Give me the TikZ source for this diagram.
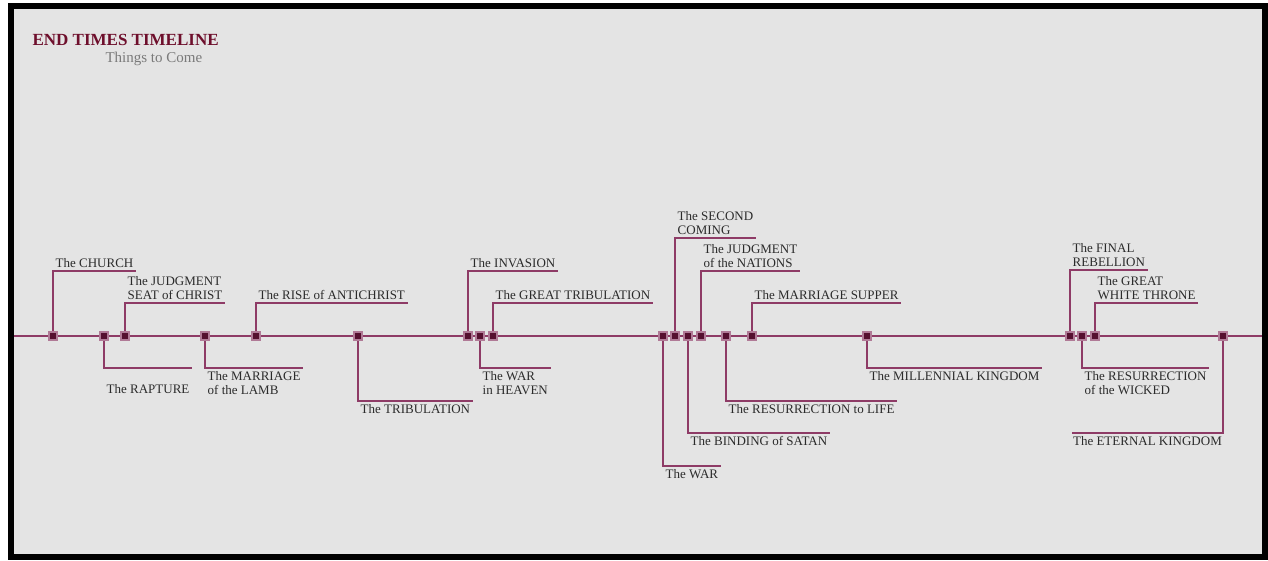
\documentclass[tikz,border=0pt]{standalone}
\usepackage{fontspec}
\setmainfont{Liberation Serif}
\usepackage{xcolor}
\usepackage{tikz}
\usetikzlibrary{backgrounds}

\definecolor{bggray}{HTML}{E4E4E4}
\definecolor{linecol}{HTML}{8E3B66}
\definecolor{evtring}{HTML}{B07A96}
\definecolor{evtcore}{HTML}{55102F}
\definecolor{txtcol}{HTML}{2B2B2B}
\definecolor{titlecol}{HTML}{6E0F2C}
\definecolor{subcol}{HTML}{7A7A7A}

\begin{document}
\begin{tikzpicture}[
  x=1pt, y=-1pt,
  font=\fontsize{13}{13.5}\selectfont,
  every node/.style={align=left, text=txtcol},
  evt/.style={
    draw=evtring, line width=2pt, fill=evtcore,
    rectangle, minimum size=8.5pt, inner sep=0pt
  },
  uplbl/.style={anchor=south west, inner xsep=2.5pt, inner ysep=3.5pt},
  dnlbl/.style={anchor=north west, inner xsep=2.5pt, inner ysep=3.5pt},
  link/.style={draw=linecol, line width=1.6pt},
  axis/.style={draw=linecol, line width=2.2pt}
]
\useasboundingbox (0,0) rectangle (1268,560);
\begin{scope}[on background layer]
  \fill[white] (0,0) rectangle (1268,560);
  \fill[black] (8,3) rectangle (1268,560);
  \fill[bggray] (14,9) rectangle (1262,554);
\end{scope}

\node[anchor=west, text=titlecol, font=\bfseries\fontsize{17}{17}\selectfont] (title) at (29,40) {END TIMES TIMELINE};
\node[anchor=west, text=subcol, font=\fontsize{15}{15}\selectfont] (subtitle) at (102,59) {Things to Come};

\coordinate (tstart) at (14,336);
\coordinate (tend) at (1262,336);

\node[evt] (church) at (53,336) {};
\node[evt] (rapture) at (104,336) {};
\node[evt] (seat) at (125,336) {};
\node[evt] (lamb) at (205,336) {};
\node[evt] (antichrist) at (256,336) {};
\node[evt] (trib) at (358,336) {};
\node[evt] (invasion) at (468,336) {};
\node[evt] (heaven) at (480,336) {};
\node[evt] (greattrib) at (493,336) {};
\node[evt] (war) at (663,336) {};
\node[evt] (coming) at (675,336) {};
\node[evt] (binding) at (688,336) {};
\node[evt] (nations) at (701,336) {};
\node[evt] (life) at (726,336) {};
\node[evt] (supper) at (752,336) {};
\node[evt] (millennium) at (867,336) {};
\node[evt] (rebellion) at (1070,336) {};
\node[evt] (wicked) at (1082,336) {};
\node[evt] (throne) at (1095,336) {};
\node[evt] (eternal) at (1223,336) {};

\node[uplbl] (lchurch) at (53,271) {The CHURCH};
\node[dnlbl, text height=22pt] (lrapture) at (104,368) {The RAPTURE};
\node[uplbl] (lseat) at (125,303) {The JUDGMENT\\SEAT of CHRIST};
\node[dnlbl] (llamb) at (205,368) {The MARRIAGE\\of the LAMB};
\node[uplbl] (lantichrist) at (256,303) {The RISE of ANTICHRIST};
\node[dnlbl] (ltrib) at (358,401) {The TRIBULATION};
\node[uplbl] (linvasion) at (468,271) {The INVASION};
\node[dnlbl] (lheaven) at (480,368) {The WAR\\in HEAVEN};
\node[uplbl] (lgreattrib) at (493,303) {The GREAT TRIBULATION};
\node[dnlbl] (lwar) at (663,466) {The WAR};
\node[uplbl] (lcoming) at (675,238) {The SECOND\\COMING};
\node[dnlbl] (lbinding) at (688,433) {The BINDING of SATAN};
\node[uplbl] (lnations) at (701,271) {The JUDGMENT\\of the NATIONS};
\node[dnlbl] (llife) at (726,401) {The RESURRECTION to LIFE};
\node[uplbl] (lsupper) at (752,303) {The MARRIAGE SUPPER};
\node[dnlbl] (lmillennium) at (867,368) {The MILLENNIAL KINGDOM};
\node[uplbl] (lrebellion) at (1070,270) {The FINAL\\REBELLION};
\node[dnlbl] (lwicked) at (1082,368) {The RESURRECTION\\of the WICKED};
\node[uplbl] (lthrone) at (1095,303) {The GREAT\\WHITE THRONE};
\node[anchor=north east, inner xsep=1pt, inner ysep=3.5pt] (leternal) at (1223,433) {The ETERNAL KINGDOM};

\begin{scope}[on background layer]
  \draw[axis] (tstart) -- (tend);
  \draw[link] (church) |- (lchurch.south east);
  \draw[link] (rapture) |- (lrapture.north east);
  \draw[link] (seat) |- (lseat.south east);
  \draw[link] (lamb) |- (llamb.north east);
  \draw[link] (antichrist) |- (lantichrist.south east);
  \draw[link] (trib) |- (ltrib.north east);
  \draw[link] (invasion) |- (linvasion.south east);
  \draw[link] (heaven) |- (lheaven.north east);
  \draw[link] (greattrib) |- (lgreattrib.south east);
  \draw[link] (war) |- (lwar.north east);
  \draw[link] (coming) |- (lcoming.south east);
  \draw[link] (binding) |- (lbinding.north east);
  \draw[link] (nations) |- (lnations.south east);
  \draw[link] (life) |- (llife.north east);
  \draw[link] (supper) |- (lsupper.south east);
  \draw[link] (millennium) |- (lmillennium.north east);
  \draw[link] (rebellion) |- (lrebellion.south east);
  \draw[link] (wicked) |- (lwicked.north east);
  \draw[link] (throne) |- (lthrone.south east);
  \draw[link] (eternal) |- (leternal.north west);
\end{scope}

\end{tikzpicture}
\end{document}
